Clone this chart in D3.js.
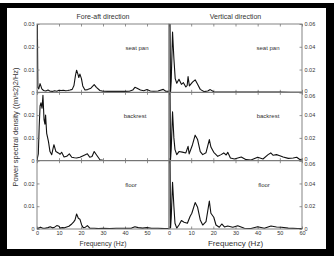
<!DOCTYPE html>
<html lang="en">
<head>
<meta charset="UTF-8">
<title>Power spectral density</title>
<script src="https://d3js.org/d3.v7.min.js"></script>
<style>
  body { margin: 0; background: #fff; }
  text { font-family: "Liberation Sans", Arial, sans-serif; fill: #333; }
</style>
</head>
<body>
<script>
// fore-aft direction (left column)
const faSeatF = [0, 0.4, 0.8, 1.4, 2.2, 3, 4, 5, 6, 7, 8, 9, 10, 11, 12, 13, 14, 15, 16, 16.8, 17.5, 18, 18.6, 19, 19.5, 20.2, 20.8, 21.8, 23, 24.5, 26, 27, 28.6, 30, 32, 34, 36, 38, 40, 42, 43.5, 44.5, 45.5, 47, 48.5, 50, 51.5, 53, 55, 57.4, 58.5, 60];
const faSeatV = [0.05, 0.002, 0.0015, 0.0038, 0.0015, 0.0008, 0.0006, 0.001, 0.0005, 0.0004, 0.0007, 0.0005, 0.0009, 0.0008, 0.0009, 0.0007, 0.0008, 0.001, 0.0013, 0.003, 0.0075, 0.0097, 0.008, 0.0065, 0.008, 0.006, 0.0028, 0.001, 0.0012, 0.0018, 0.0034, 0.0022, 0.0008, 0.0005, 0.0004, 0.0005, 0.0004, 0.0005, 0.0004, 0.0005, 0.001, 0.0022, 0.0018, 0.001, 0.0007, 0.0012, 0.0006, 0.0005, 0.0006, 0.0013, 0.0005, 0.0004];

const faBackF = [0, 0.6, 1.0, 1.4, 1.8, 2.3, 2.7, 3.2, 3.6, 3.9, 4.4, 5.2, 5.9, 6.7, 7.2, 7.7, 8.6, 9.7, 10.5, 11.2, 12.3, 13.5, 14.7, 15.8, 17, 18, 19.5, 21, 22.9, 24, 25, 26, 27, 28.6, 30, 35, 40, 45, 50, 55, 60];
const faBackV = [0.0003, 0.003, 0.015, 0.024, 0.0254, 0.023, 0.0287, 0.018, 0.016, 0.020, 0.012, 0.0085, 0.004, 0.0026, 0.005, 0.007, 0.004, 0.0034, 0.0028, 0.0037, 0.0016, 0.0019, 0.003, 0.0015, 0.0013, 0.0012, 0.0015, 0.0022, 0.003, 0.0015, 0.0018, 0.004, 0.0026, 0.0004, 0.0002, 0.0001, 0.0001, 0.0001, 0.0001, 0.0001, 0.0001];

const faFloorF = [0, 1, 1.5, 2.5, 3.6, 5, 6, 7, 8, 9, 10, 10.5, 11.5, 12.5, 13.5, 14.5, 15.8, 16.6, 17.3, 18, 18.8, 19.5, 20.3, 21, 22, 22.9, 24, 26, 28, 30, 33, 36, 40, 43, 44.5, 46, 48, 50, 52, 55, 58, 60];
const faFloorV = [0.0002, 0.0005, 0.0008, 0.0004, 0.0003, 0.0006, 0.001, 0.0005, 0.0008, 0.0015, 0.0012, 0.0004, 0.0006, 0.0005, 0.0009, 0.0012, 0.0022, 0.003, 0.004, 0.0066, 0.0047, 0.0043, 0.0018, 0.0006, 0.0008, 0.0015, 0.0004, 0.0003, 0.0002, 0.0003, 0.0002, 0.0003, 0.0003, 0.0004, 0.001, 0.0006, 0.0004, 0.0006, 0.0003, 0.0003, 0.0002, 0.0002];

// vertical direction (right column)
const vSeatF = [0, 0.35, 0.7, 1.0, 1.6, 2.2, 2.8, 3.5, 4.5, 5.6, 6.5, 7.6, 8.2, 8.6, 9.2, 10.6, 11.8, 12.9, 14.1, 15.9, 17.5, 18.6, 20.2, 22.7, 26, 30, 35, 40, 45, 50, 55, 60];
const vSeatV = [0.09, 0.09, 0.0005, 0.01, 0.053, 0.03, 0.012, 0.008, 0.0115, 0.007, 0.0085, 0.0047, 0.006, 0.0138, 0.0056, 0.009, 0.011, 0.007, 0.0026, 0.0006, 0.0012, 0.0024, 0.0005, 0.0003, 0.0002, 0.0002, 0.0003, 0.0002, 0.0002, 0.0002, 0.0001, 0.0001];

const vBackF = [0, 0.35, 0.7, 1.0, 1.6, 2.2, 2.7, 3.5, 4.5, 6, 7.6, 8.6, 9.1, 10.6, 11.8, 12.9, 14.1, 15.2, 16.7, 18.2, 18.9, 20.2, 22, 23.5, 24.7, 25.8, 26.5, 27.7, 29.5, 32.6, 34.8, 37, 40, 42.4, 44.7, 45.9, 47, 48.5, 50, 51.5, 53.8, 56, 57.6, 59, 60];
const vBackV = [0.09, 0.09, 0.001, 0.01, 0.043, 0.02, 0.0097, 0.0053, 0.008, 0.0075, 0.0068, 0.0126, 0.006, 0.014, 0.0224, 0.0185, 0.008, 0.0053, 0.007, 0.0185, 0.012, 0.0073, 0.0038, 0.0053, 0.0068, 0.005, 0.0073, 0.0024, 0.0015, 0.0032, 0.0009, 0.0006, 0.003, 0.0015, 0.0053, 0.0068, 0.0047, 0.0053, 0.0044, 0.0032, 0.002, 0.0024, 0.003, 0.001, 0.0012];

const vFloorF = [0, 0.35, 0.7, 1.0, 1.6, 2.2, 2.7, 3.5, 4.5, 5.6, 6.8, 8.3, 9.5, 10.3, 11.8, 12.9, 14.1, 15.2, 16.7, 18.2, 18.9, 20.2, 21.2, 22.7, 23.8, 25, 26.5, 28.8, 31, 34, 37, 40, 43, 46, 48.5, 50.8, 53.8, 58, 60];
const vFloorV = [0.09, 0.09, 0.001, 0.01, 0.041, 0.02, 0.005, 0.0008, 0.0035, 0.0074, 0.006, 0.005, 0.011, 0.0138, 0.0232, 0.019, 0.008, 0.0035, 0.0065, 0.0245, 0.0138, 0.0103, 0.0035, 0.0015, 0.0044, 0.0018, 0.0026, 0.0015, 0.0029, 0.0007, 0.0005, 0.002, 0.0007, 0.0026, 0.0018, 0.0015, 0.0008, 0.0005, 0.0005];

const rowNames = ["seat pan", "backrest", "floor"];
const colTitles = ["Fore-aft direction", "Vertical direction"];
const leftTicks = [0, 0.01, 0.02, 0.03];
const rightTicks = [0, 0.02, 0.04, 0.06];
const freqTicks = [0, 10, 20, 30, 40, 50, 60];

const width = 334, height = 256;
const svg = d3.select("body").append("svg")
  .attr("width", width).attr("height", height);

// black photo frame
svg.append("rect").attr("x", 0).attr("y", 3).attr("width", 334).attr("height", 253).attr("fill", "#000");
svg.append("rect").attr("x", 7).attr("y", 8).attr("width", 319).attr("height", 241).attr("fill", "#fff");

const plotTop = 24, plotBottom = 229, rowH = (plotBottom - plotTop) / 3;
const xs = [d3.scaleLinear([0, 60], [37, 169]), d3.scaleLinear([0, 60], [169, 302])];

const series = [
  [[faSeatF, faSeatV], [vSeatF, vSeatV]],
  [[faBackF, faBackV], [vBackF, vBackV]],
  [[faFloorF, faFloorV], [vFloorF, vFloorV]]
];

// label centres (left column, right column) per row
const labelX = [[137, 268], [135, 268], [131, 264]];

const boxColor = "#777";

for (let r = 0; r < 3; r++) {
  const y0 = plotTop + r * rowH, y1 = y0 + rowH;
  const ys = [d3.scaleLinear([0, 0.03], [y1, y0]), d3.scaleLinear([0, 0.06], [y1, y0])];
  for (let c = 0; c < 2; c++) {
    const x = xs[c], y = ys[c];
    const id = "clip" + r + c;
    svg.append("clipPath").attr("id", id).append("rect")
      .attr("x", x.range()[0]).attr("y", y0)
      .attr("width", x.range()[1] - x.range()[0]).attr("height", rowH);

    // ticks on top and bottom edges, inward
    const topAx = svg.append("g").attr("transform", `translate(0,${y0})`)
      .call(d3.axisTop(x).tickValues(freqTicks).tickSize(-2.5).tickFormat(""));
    const botAx = svg.append("g").attr("transform", `translate(0,${y1})`)
      .call(d3.axisBottom(x).tickValues(freqTicks).tickSize(-2.5)
        .tickFormat(r === 2 ? (d => (c === 0 && d === 60) ? "" : d) : ""));
    [topAx, botAx].forEach(g => {
      g.select(".domain").remove();
      g.selectAll("line").attr("stroke", boxColor).attr("stroke-width", 0.8);
      g.selectAll("text").attr("font-size", 5.5).attr("fill", "#555").attr("dy", "0.5em");
    });

    // curve
    const F = series[r][c][0], V = series[r][c][1];
    svg.append("path")
      .datum(d3.range(F.length))
      .attr("clip-path", `url(#${id})`)
      .attr("fill", "none").attr("stroke", "#111").attr("stroke-width", 1.1)
      .attr("stroke-linejoin", "round")
      .attr("d", d3.line().x(i => x(F[i])).y(i => y(V[i])));

    // box
    svg.append("rect").attr("x", x.range()[0]).attr("y", y0)
      .attr("width", x.range()[1] - x.range()[0]).attr("height", rowH)
      .attr("fill", "none").attr("stroke", boxColor).attr("stroke-width", 0.9);

    // row label
    svg.append("text")
      .attr("x", labelX[r][c]).attr("y", y0 + 26)
      .attr("text-anchor", "middle").attr("font-size", 6).attr("fill", "#333")
      .text(rowNames[r]);
  }

  // left y axis
  const yl = ys[0];
  const lt = r === 0 ? leftTicks : leftTicks.slice(0, 3);
  const la = svg.append("g").attr("transform", "translate(37,0)")
    .call(d3.axisLeft(yl).tickValues(lt).tickSize(-2.5).tickPadding(2.5)
      .tickFormat(d => d === 0 ? "0" : d3.format(".2f")(d)));
  la.select(".domain").remove();
  la.selectAll("line").attr("stroke", boxColor).attr("stroke-width", 0.8);
  la.selectAll("text").attr("font-size", 5.5).attr("fill", "#555");

  // right y axis
  const yr = ys[1];
  const ra = svg.append("g").attr("transform", "translate(302,0)")
    .call(d3.axisRight(yr).tickValues(rightTicks).tickSize(-2.5).tickPadding(2.5)
      .tickFormat(d => d === 0 ? "0" : d3.format(".2f")(d)));
  ra.select(".domain").remove();
  ra.selectAll("line").attr("stroke", boxColor).attr("stroke-width", 0.8);
  ra.selectAll("text").attr("font-size", 5.5).attr("fill", "#555")
    .attr("dy", d => (d === 0.06 && r > 0) ? "0.95em" : (d === 0 && r < 2) ? "0em" : "0.32em");
}

// column titles
colTitles.forEach((t, c) => {
  svg.append("text")
    .attr("x", (xs[c].range()[0] + xs[c].range()[1]) / 2).attr("y", 19)
    .attr("text-anchor", "middle").attr("font-size", 7).attr("fill", "#333")
    .text(t);
});

// x labels
[6.8, 8].forEach((fs, c) => {
  svg.append("text")
    .attr("x", (xs[c].range()[0] + xs[c].range()[1]) / 2).attr("y", 246)
    .attr("text-anchor", "middle").attr("font-size", fs).attr("fill", "#333")
    .text("Frequency (Hz)");
});

// y label
svg.append("text")
  .attr("transform", "translate(18,127) rotate(-90)")
  .attr("text-anchor", "middle").attr("font-size", 7.5).attr("fill", "#333")
  .text("Power spectral density ((m/s2)2/Hz)");
</script>
</body>
</html>
